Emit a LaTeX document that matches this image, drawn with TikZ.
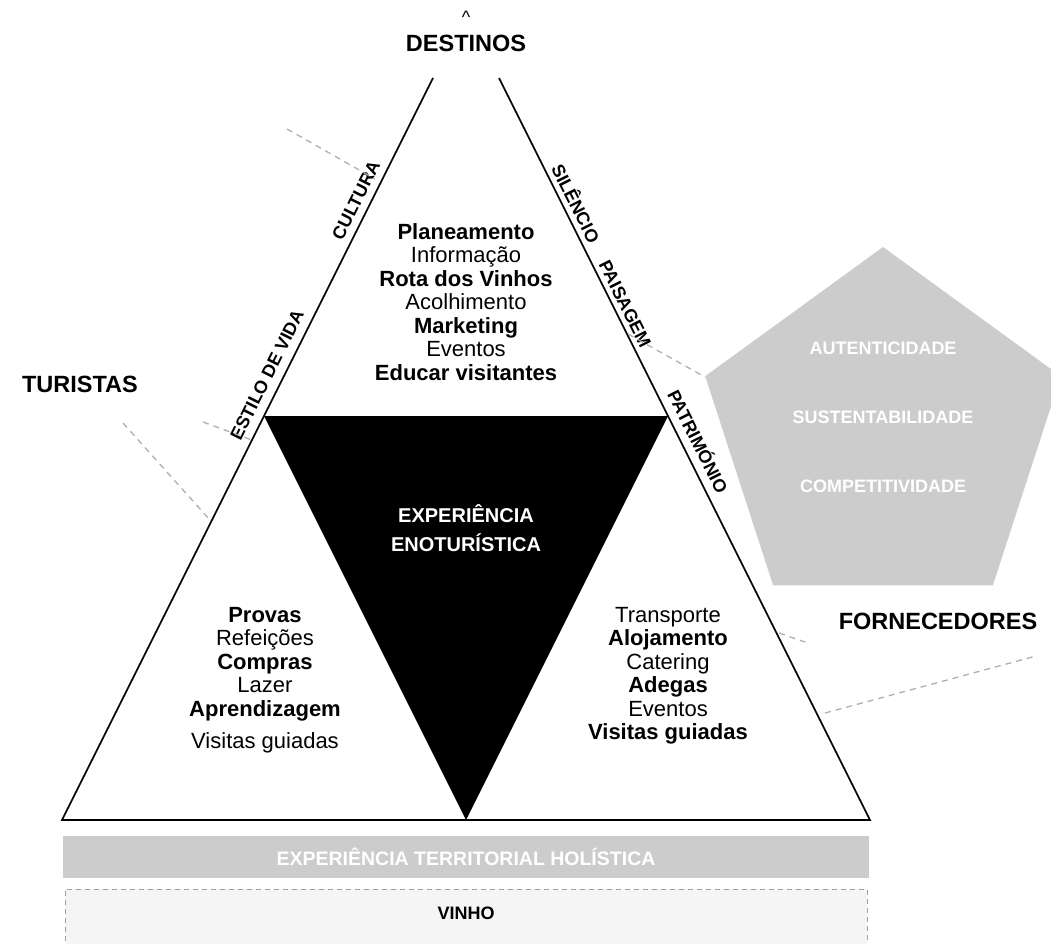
\documentclass[tikz,border=0pt]{standalone}
\usepackage{fontspec}
\setmainfont{Liberation Sans}
\definecolor{pentgray}{RGB}{204, 204, 204}
\definecolor{leadgray}{RGB}{175, 175, 175}
\definecolor{vinhofill}{RGB}{244, 245, 244}
\definecolor{vinholine}{RGB}{160, 160, 160}
\usetikzlibrary{calc}

\tikzset{
  actor/.style={font=\fontsize{23.5}{26}\selectfont\bfseries, inner sep=0pt},
  sidelabel/.style={font=\fontsize{18}{20}\selectfont\bfseries, inner sep=0pt},
  tasklist/.style={align=center, inner sep=0pt, font=\fontsize{22}{23.5}\selectfont},
  valuetext/.style={text=white, inner sep=0pt, font=\fontsize{18}{20}\selectfont\bfseries},
  leader/.style={leadgray, line width=1.3pt, dash pattern=on 6pt off 5pt}
}

\begin{document}
\begin{tikzpicture}[x=1pt, y=-1pt]
  \useasboundingbox (0,0) rectangle (1051,944);

  % Triangle corners
  \coordinate (bl) at (62,820);
  \coordinate (br) at (870,820);
  \coordinate (lt) at (433,78);
  \coordinate (rt) at (499,78);
  \coordinate (ml) at (264,416);
  \coordinate (mr) at (668,416);
  \coordinate (mb) at (466,820);

  % Values pentagon
  \begin{scope}
    \clip (0,0) rectangle (1051,944);
    \fill[pentgray] (883,247) -- (1060.8,376.2) -- (992.9,585.3)
      -- (773.1,585.3) -- (705.2,376.2) -- cycle;
  \end{scope}
  \node[valuetext] (aut) at (883,348) {AUTENTICIDADE};
  \node[valuetext] (sus) at (883,417) {SUSTENTABILIDADE};
  \node[valuetext] (comp) at (883,486) {COMPETITIVIDADE};

  % Experience triangle
  \fill (ml) -- (mr) -- (mb) -- cycle;
  \draw[line width=1.7pt, line join=miter] (lt) -- (bl) -- (br) -- (rt);
  \node[text=white, align=center, inner sep=0pt,
    font=\fontsize{20}{29}\selectfont\bfseries] (exp) at (466,528)
    {EXPERIÊNCIA\\ENOTURÍSTICA};

  % Actors
  \node[inner sep=0pt, font=\fontsize{18}{20}\selectfont] (caret) at (466,17) {\textasciicircum};
  \node[actor] (dest) at (466,43) {DESTINOS};
  \node[actor] (tur) at (80,384) {TURISTAS};
  \node[actor] (forn) at (938,621) {FORNECEDORES};

  % Side labels
  \node[sidelabel, rotate=63.43] (cult) at (356,200) {CULTURA};
  \node[sidelabel, rotate=63.43] (estilo) at (267,375) {ESTILO DE VIDA};
  \node[sidelabel, rotate=-63.43] (sil) at (577,203) {SILÊNCIO};
  \node[sidelabel, rotate=-63.43] (pais) at (625,304) {PAISAGEM};
  \node[sidelabel, rotate=-63.43] (patr) at (699,441) {PATRIMÓNIO};

  % Task lists
  \node[tasklist] (dtasks) at (466,302) {\textbf{Planeamento}\\Informação\\
    \textbf{Rota dos Vinhos}\\Acolhimento\\\textbf{Marketing}\\Eventos\\
    \textbf{Educar visitantes}};
  \node[tasklist] (ttasks) at (265,680) {\textbf{Provas}\\Refeições\\
    \textbf{Compras}\\Lazer\\\textbf{Aprendizagem}\\[9pt]Visitas guiadas};
  \node[tasklist] (ftasks) at (668,676) {Transporte\\\textbf{Alojamento}\\
    Catering\\\textbf{Adegas}\\Eventos\\\textbf{Visitas guiadas}};

  % Leaders
  \coordinate (c1) at (287,129);
  \coordinate (c2) at (375,179);
  \coordinate (e1) at (203,422);
  \coordinate (e2) at (252,440);
  \coordinate (t1) at (123,423);
  \coordinate (t2) at (210,520);
  \coordinate (p1) at (628,334);
  \coordinate (p2) at (705,377);
  \coordinate (f1) at (779,633);
  \coordinate (f2) at (808,643);
  \coordinate (f3) at (825,713);
  \coordinate (f4) at (1036,656);
  \draw[leader] (c1) -- (c2);
  \draw[leader] (e1) -- (e2);
  \draw[leader] (t1) -- (t2);
  \draw[leader] (p1) -- (p2);
  \draw[leader] (f1) -- (f2);
  \draw[leader] (f3) -- (f4);

  % Territorial band
  \fill[pentgray] (63,836) rectangle (869,878);
  \node[text=white, inner sep=0pt, font=\fontsize{19.5}{21}\selectfont\bfseries]
    (terr) at (466,857) {EXPERIÊNCIA TERRITORIAL HOLÍSTICA};

  % Wine box
  \fill[vinhofill] (65,889) rectangle (867,950);
  \draw[vinholine, line width=1pt, dash pattern=on 5pt off 4pt]
    (65,950) -- (65,889) -- (867,889) -- (867,950);
  \node[inner sep=0pt, font=\fontsize{18}{20}\selectfont\bfseries] (vinho) at (466,913) {VINHO};
\end{tikzpicture}
\end{document}
